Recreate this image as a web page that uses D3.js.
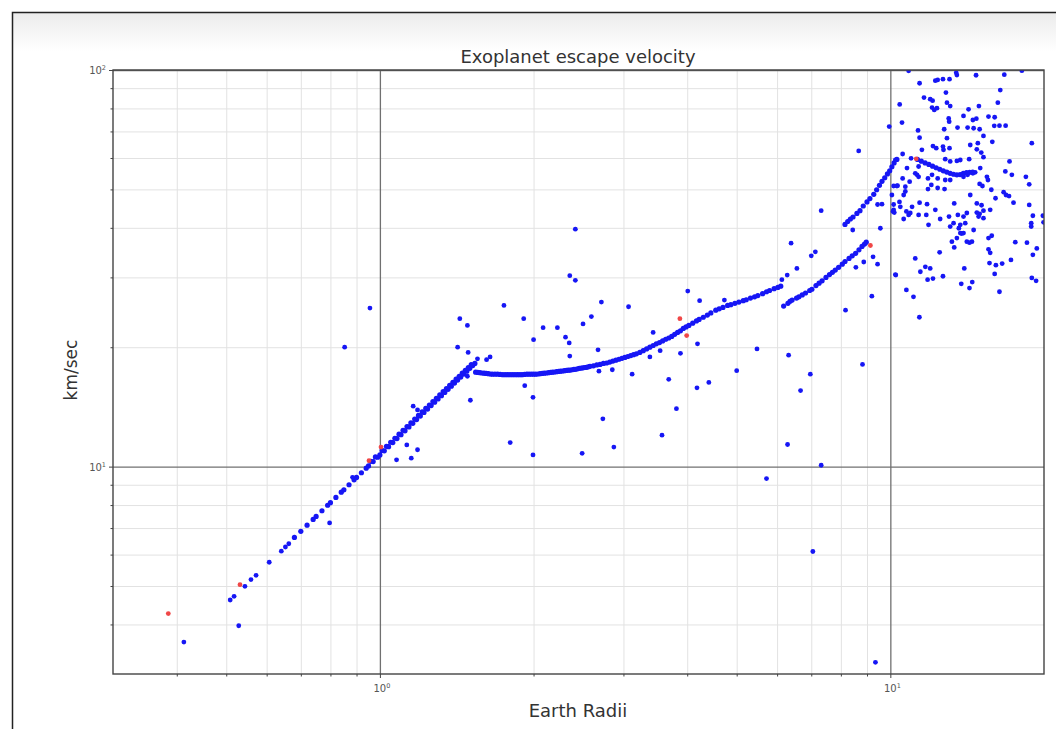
<!DOCTYPE html>
<html>
<head>
<meta charset="utf-8">
<script src="https://cdn.jsdelivr.net/npm/d3@7"></script>
<style>
  body { margin: 0; background: #fff; }
  svg { display: block; font-family: "DejaVu Sans", sans-serif; }
</style>
</head>
<body>
<div id="chart"></div>
<script>
// Page and plot area
const width = 1056;
const height = 729;
const margin = { top: 70, right: 12, bottom: 55, left: 113 };

// Ticks
const xMajor = [1, 10];
const xMinor = [0.4, 0.5, 0.6, 0.7, 0.8, 0.9, 2, 3, 4, 5, 6, 7, 8, 9];
const yMajor = [10, 100];
const yMinor = [4, 5, 6, 7, 8, 9, 20, 30, 40, 50, 60, 70, 80, 90];

// Model branches: [earth radii, km/sec]
const rockyBranch = [
  [0.68, 6.63], [0.70, 6.87], [0.72, 7.12], [0.74, 7.36], [0.75, 7.49], [0.77, 7.74], [0.79, 7.99],
  [0.80, 8.11], [0.82, 8.36], [0.84, 8.62], [0.85, 8.74], [0.87, 9.00], [0.89, 9.26], [0.90, 9.39],
  [0.92, 9.65], [0.94, 9.91], [0.95, 10.04], [0.97, 10.30], [0.99, 10.56], [1.00, 10.70], [1.02, 10.96],
  [1.04, 11.23], [1.06, 11.50], [1.08, 11.77], [1.10, 12.04], [1.12, 12.31], [1.14, 12.59], [1.16, 12.86],
  [1.18, 13.14], [1.20, 13.41], [1.22, 13.69], [1.24, 13.97], [1.26, 14.25], [1.28, 14.53], [1.30, 14.81],
  [1.32, 15.10], [1.34, 15.38], [1.36, 15.66], [1.38, 15.95], [1.40, 16.24], [1.42, 16.53], [1.44, 16.82],
  [1.46, 17.11], [1.48, 17.40], [1.50, 17.69], [1.52, 17.98], [1.535, 18.2],
  [0.96, 10.31], [0.98, 10.58], [1.01, 10.98], [1.03, 11.25], [1.05, 11.52], [1.07, 11.79], [1.09, 12.07],
  [1.11, 12.35], [1.13, 12.62], [1.15, 12.90], [1.17, 13.18], [1.19, 13.46], [1.21, 13.74], [1.23, 14.02],
  [1.25, 14.30], [1.27, 14.59], [1.29, 14.87], [1.31, 15.16], [1.33, 15.45], [1.35, 15.74], [1.37, 16.03],
  [1.39, 16.32], [1.41, 16.61], [1.43, 16.90], [1.45, 17.20], [1.47, 17.49], [1.49, 17.78], [1.51, 18.08]
];

const neptuneBranch = [
  [1.54, 17.3], [1.57, 17.25], [1.60, 17.2], [1.63, 17.15], [1.66, 17.1], [1.70, 17.1], [1.74, 17.05],
  [1.78, 17.05], [1.82, 17.05], [1.86, 17.05], [1.90, 17.05], [1.94, 17.1], [1.98, 17.1], [2.02, 17.1],
  [2.06, 17.15], [2.10, 17.2], [2.14, 17.25], [2.18, 17.3], [2.22, 17.35], [2.26, 17.4], [2.30, 17.45],
  [2.34, 17.5], [2.38, 17.55], [2.42, 17.6], [2.46, 17.7], [2.50, 17.75], [2.54, 17.8], [2.58, 17.9],
  [2.62, 17.95], [2.66, 18.05], [2.70, 18.1], [2.74, 18.2], [2.78, 18.25], [2.82, 18.35], [2.86, 18.45],
  [2.90, 18.55], [2.94, 18.65], [2.98, 18.75], [3.02, 18.85], [3.06, 18.95], [3.10, 19.05], [3.14, 19.15],
  [3.18, 19.25], [3.23, 19.4], [3.28, 19.6], [3.33, 19.8], [3.38, 20.0], [3.43, 20.2], [3.48, 20.4],
  [3.53, 20.55], [3.58, 20.75], [3.63, 20.95], [3.68, 21.1], [3.73, 21.3], [3.78, 21.55], [3.83, 21.8],
  [3.88, 22.0], [3.93, 22.3], [3.98, 22.5], [4.03, 22.7],
  [1.555, 17.28], [1.585, 17.22], [1.615, 17.18], [1.645, 17.12], [1.68, 17.1], [1.72, 17.08], [1.76, 17.05],
  [1.80, 17.05], [1.84, 17.05], [1.88, 17.05], [1.92, 17.08], [1.96, 17.1], [2.00, 17.1], [2.04, 17.12],
  [2.08, 17.18], [2.12, 17.22], [2.16, 17.28], [2.20, 17.32], [2.24, 17.38], [2.28, 17.42], [2.32, 17.48],
  [2.36, 17.52], [2.40, 17.58], [2.44, 17.65], [2.48, 17.72], [2.52, 17.78], [2.56, 17.85],
  [4.10, 23.0], [4.17, 23.3], [4.22, 23.5], [4.30, 23.8], [4.38, 24.1], [4.45, 24.4], [4.55, 24.8],
  [4.62, 25.0], [4.70, 25.2], [4.80, 25.5], [4.87, 25.6], [4.96, 25.8], [5.05, 26.0], [5.15, 26.2],
  [5.22, 26.35], [5.32, 26.6], [5.42, 26.8], [5.50, 27.0], [5.62, 27.3], [5.72, 27.6], [5.80, 27.8],
  [5.92, 28.1], [6.02, 28.3], [6.10, 28.5]
];

const subSaturnBranch = [
  [6.18, 25.4], [6.30, 25.8], [6.36, 26.1], [6.42, 26.3], [6.55, 26.6], [6.62, 26.8], [6.72, 27.1],
  [6.82, 27.4], [6.95, 27.8], [7.02, 28.0], [7.15, 28.6], [7.25, 29.0], [7.35, 29.4], [7.48, 30.0],
  [7.60, 30.5], [7.70, 30.9], [7.80, 31.3], [7.92, 31.8], [8.05, 32.4], [8.15, 32.9], [8.30, 33.5],
  [8.42, 34.0], [8.55, 34.5], [8.68, 35.2], [8.80, 35.9], [8.90, 36.4], [8.97, 36.8]
];

const saturnBranch = [
  [8.15, 40.8], [8.25, 41.5], [8.35, 42.1], [8.45, 42.6], [8.60, 43.5], [8.72, 44.2], [8.85, 45.4],
  [9.00, 46.5], [9.12, 47.4], [9.28, 48.6], [9.40, 49.9], [9.52, 51.2], [9.63, 52.4], [9.75, 53.5],
  [9.87, 54.7], [9.97, 55.7], [10.07, 57.0], [10.17, 58.3], [10.30, 59.5]
];

const jupiterBranch = [
  [11.3, 59.5], [11.5, 58.9], [11.7, 58.3], [11.9, 57.8], [12.1, 57.2], [12.3, 56.7], [12.5, 56.2],
  [12.7, 55.7], [12.9, 55.3], [13.1, 54.9], [13.3, 54.6], [13.5, 54.4], [13.7, 54.5], [13.9, 54.9],
  [14.1, 55.1], [14.3, 55.2], [14.5, 55.3]
];

// Measured planets
const measured = [
  [0.413, 3.61], [0.529, 3.97], [0.509, 4.61], [0.518, 4.71], [0.544, 4.99], [0.559, 5.19], [0.572, 5.32],
  [0.607, 5.74], [0.641, 6.12], [0.653, 6.27], [0.663, 6.39], [0.797, 7.21], [0.884, 9.4], [0.853, 20.0],
  [0.956, 25.1],
  [2.415, 39.7], [2.355, 30.3], [2.415, 29.5], [1.75, 25.5], [2.716, 26.0], [3.07, 25.3], [4.01, 27.7],
  [4.23, 26.2], [1.434, 23.6], [1.484, 22.7], [1.913, 23.6], [2.088, 22.4], [2.227, 22.4], [2.596, 23.9],
  [2.50, 22.9], [2.31, 21.2], [2.349, 20.5], [2.355, 19.0], [2.0, 20.9], [1.42, 20.0], [1.489, 19.4],
  [1.553, 18.7], [1.618, 18.6], [1.644, 18.9], [1.484, 16.9], [1.504, 14.7], [1.162, 14.2], [1.185, 13.9],
  [1.129, 11.34], [1.185, 11.03], [1.078, 10.4], [1.152, 10.5], [1.922, 16.0], [1.995, 14.95], [1.80, 11.5],
  [1.995, 10.7], [2.49, 10.8], [2.675, 19.7], [2.686, 17.4], [2.853, 17.55], [3.12, 17.1], [2.734, 13.2],
  [2.873, 11.2], [3.43, 21.8], [3.38, 18.9], [3.54, 19.6], [3.68, 16.6], [3.81, 14.0], [3.57, 12.0],
  [3.88, 19.3], [4.19, 20.4], [4.18, 15.8], [4.41, 16.3],
  [4.73, 26.3], [5.48, 19.8], [5.0, 17.45], [8.67, 62.5], [7.32, 44.2], [6.39, 36.6], [7.13, 34.8],
  [7.0, 34.0], [6.56, 31.6], [6.13, 29.6], [6.28, 30.4], [8.44, 39.5], [9.56, 39.9], [9.44, 45.8],
  [9.63, 45.9], [10.07, 48.4], [10.15, 45.8], [10.12, 44.0], [10.33, 51.1], [10.42, 46.5], [10.25, 30.4],
  [8.56, 31.8], [8.87, 32.8], [9.25, 33.8], [9.44, 32.4], [9.2, 26.9], [8.17, 24.8], [8.82, 18.1],
  [6.32, 19.1], [6.97, 17.1], [6.67, 15.55], [6.29, 11.37], [7.32, 10.08], [5.72, 9.33], [7.05, 6.11],
  [9.35, 3.21],
  [10.86, 99.5], [13.46, 98.4], [13.5, 97.1], [14.72, 97.0], [16.72, 97.3], [18.1, 99.6], [11.41, 92.6],
  [12.25, 94.0], [12.38, 94.4], [12.68, 94.8], [13.06, 94.8], [12.85, 87.7], [16.42, 89.0], [11.64, 85.2],
  [11.97, 84.4], [12.10, 83.7], [12.91, 82.7], [13.10, 81.1], [16.24, 82.7], [10.43, 81.9], [12.07, 80.4],
  [12.19, 79.3], [12.34, 80.1], [14.23, 79.6], [14.91, 81.1], [13.01, 75.5], [13.04, 74.1], [13.91, 76.6],
  [14.51, 74.8], [14.74, 75.4], [15.57, 76.3], [16.01, 76.0], [10.54, 73.7], [9.95, 72.0], [12.75, 70.9],
  [13.54, 71.6], [14.17, 71.6], [14.56, 71.3], [14.96, 70.9], [15.98, 72.3], [16.36, 72.4], [16.82, 72.4],
  [11.33, 70.4], [11.41, 67.5], [12.91, 67.3], [15.22, 68.2], [15.84, 65.9], [18.93, 65.4], [12.12, 64.3],
  [12.30, 63.5], [12.68, 64.1], [12.71, 62.9], [13.06, 63.5], [14.34, 64.7], [14.84, 65.4], [14.77, 63.1],
  [15.07, 61.9], [15.22, 60.3], [14.27, 59.6], [11.53, 62.9], [10.23, 59.3], [10.57, 61.4], [10.98, 59.9],
  [12.81, 59.6], [13.10, 58.8], [13.5, 59.0], [13.71, 59.3], [10.78, 56.6], [11.36, 57.1], [15.0, 56.6],
  [16.8, 55.5], [17.12, 58.8], [11.19, 54.9], [11.28, 54.4], [11.36, 53.8], [10.57, 53.3], [10.91, 52.3],
  [11.85, 53.3], [12.07, 54.4], [12.38, 53.3], [12.81, 52.8], [13.10, 52.8], [13.91, 53.8], [14.17, 54.4],
  [14.51, 54.9], [14.66, 55.2], [15.46, 53.8], [15.53, 52.8], [17.3, 54.4], [18.43, 53.8], [18.71, 51.5],
  [10.15, 51.0], [10.30, 51.0], [10.70, 50.8], [11.85, 50.1], [12.38, 50.4], [12.03, 51.3], [12.77, 50.1],
  [14.34, 48.4], [14.96, 51.6], [15.15, 51.0], [15.77, 49.9], [16.67, 49.2], [16.85, 48.4], [10.46, 45.2],
  [10.62, 48.4], [11.03, 45.2], [10.70, 49.4], [11.41, 46.3], [11.80, 45.9], [13.34, 46.1], [14.77, 46.1],
  [15.09, 45.6], [16.07, 47.5], [17.08, 48.1], [17.43, 46.3], [18.71, 45.7], [10.15, 44.4], [10.18, 43.7],
  [10.75, 44.0], [10.86, 43.1], [10.94, 43.6], [11.36, 43.1], [11.76, 43.1], [12.25, 44.4], [12.52, 42.1],
  [13.03, 42.7], [13.56, 43.1], [13.91, 42.7], [14.12, 43.6], [14.77, 43.7], [14.96, 43.4], [14.89, 42.7],
  [15.22, 44.2], [15.69, 44.4], [19.02, 42.9], [19.9, 42.9], [10.62, 42.1], [11.88, 40.7], [13.10, 40.3],
  [13.3, 41.1], [13.71, 40.7], [13.62, 39.9], [14.02, 41.1], [14.56, 39.5], [15.22, 42.3], [18.88, 41.1],
  [18.88, 40.3], [19.96, 41.3], [13.71, 38.8], [13.8, 38.7], [13.91, 38.8], [15.80, 38.2], [15.57, 37.7],
  [13.50, 37.7], [13.20, 36.9], [12.49, 34.7], [13.34, 35.7], [14.12, 36.9], [14.29, 36.7], [14.45, 36.9],
  [15.57, 35.3], [15.69, 34.6], [17.57, 36.8], [18.52, 36.7], [19.36, 35.5], [19.02, 34.2], [11.19, 33.5],
  [11.45, 31.0], [11.71, 31.9], [11.97, 31.6], [11.83, 29.6], [12.12, 29.8], [12.68, 30.2], [13.96, 31.6],
  [15.64, 32.6], [16.10, 32.2], [16.56, 32.5], [17.23, 33.2], [16.01, 30.6], [10.23, 30.5], [10.75, 27.9],
  [11.10, 26.8], [13.77, 28.9], [14.29, 28.2], [14.47, 29.2], [16.36, 27.6], [18.93, 29.9], [19.3, 29.4],
  [11.4, 23.8]
];

// Solar system reference planets (red)
const solarPlanets = [
  [0.385, 4.26], [0.532, 5.04], [0.952, 10.35], [1.005, 11.2], [3.87, 23.6], [3.99, 21.4],
  [9.14, 36.1], [11.24, 59.7]
];

const blue = "#1414f5";
const red = "#f04646";

const svg = d3.select("#chart")
  .append("svg")
  .attr("width", width)
  .attr("height", height);

// Window frame around the figure
const defs = svg.append("defs");
const grad = defs.append("linearGradient")
  .attr("id", "topfade")
  .attr("x1", 0).attr("y1", 0).attr("x2", 0).attr("y2", 1);
grad.append("stop").attr("offset", "0%").attr("stop-color", "#ececec");
grad.append("stop").attr("offset", "100%").attr("stop-color", "#ffffff");

defs.append("filter").attr("id", "soft")
  .append("feGaussianBlur").attr("stdDeviation", 0.35);

svg.append("rect")
  .attr("x", 13).attr("y", 13)
  .attr("width", width - 13).attr("height", 38)
  .attr("fill", "url(#topfade)");

svg.append("path")
  .attr("d", `M12.5,${height} V12.5 H${width}`)
  .attr("fill", "none")
  .attr("stroke", "#222")
  .attr("stroke-width", 1.5);

// Scales
const x = d3.scaleLog()
  .domain([0.3, 20])
  .range([margin.left, width - margin.right]);

const y = d3.scaleLog()
  .domain([3, 100])
  .range([height - margin.bottom, margin.top]);

const plotW = width - margin.left - margin.right;
const plotH = height - margin.top - margin.bottom;

defs.append("clipPath").attr("id", "plot")
  .append("rect")
  .attr("x", margin.left).attr("y", margin.top)
  .attr("width", plotW).attr("height", plotH);

// Minor grid
svg.append("g")
  .attr("transform", `translate(0, ${height - margin.bottom})`)
  .call(d3.axisBottom(x).tickValues(xMinor).tickSize(-plotH).tickFormat(""))
  .call(g => g.select(".domain").remove())
  .call(g => g.selectAll("line").attr("stroke", "#e2e2e2").attr("stroke-width", 1));

svg.append("g")
  .attr("transform", `translate(${margin.left}, 0)`)
  .call(d3.axisLeft(y).tickValues(yMinor).tickSize(-plotW).tickFormat(""))
  .call(g => g.select(".domain").remove())
  .call(g => g.selectAll("line").attr("stroke", "#e2e2e2").attr("stroke-width", 1));

// Major grid
svg.append("g")
  .attr("transform", `translate(0, ${height - margin.bottom})`)
  .call(d3.axisBottom(x).tickValues(xMajor).tickSize(-plotH).tickFormat(""))
  .call(g => g.select(".domain").remove())
  .call(g => g.selectAll("line").attr("stroke", "#707070").attr("stroke-width", 1.3));

svg.append("g")
  .attr("transform", `translate(${margin.left}, 0)`)
  .call(d3.axisLeft(y).tickValues(yMajor).tickSize(-plotW).tickFormat(""))
  .call(g => g.select(".domain").remove())
  .call(g => g.selectAll("line").attr("stroke", "#707070").attr("stroke-width", 1.3));

// Points
const points = svg.append("g")
  .attr("clip-path", "url(#plot)")
  .append("g")
  .attr("filter", "url(#soft)");

[rockyBranch, neptuneBranch, subSaturnBranch, saturnBranch, jupiterBranch].forEach(series => {
  points.append("g")
    .selectAll("circle")
    .data(series)
    .enter()
    .append("circle")
    .attr("cx", d => x(d[0]))
    .attr("cy", d => y(d[1]))
    .attr("r", 2.6)
    .attr("fill", blue);
});

points.append("g")
  .selectAll("circle")
  .data(measured)
  .enter()
  .append("circle")
  .attr("cx", d => x(d[0]))
  .attr("cy", d => y(d[1]))
  .attr("r", 2.4)
  .attr("fill", blue);

points.append("g")
  .selectAll("circle")
  .data(solarPlanets)
  .enter()
  .append("circle")
  .attr("cx", d => x(d[0]))
  .attr("cy", d => y(d[1]))
  .attr("r", 2.4)
  .attr("fill", red);

// Ticks (outward)
const tickColor = "#444";
svg.append("g")
  .attr("transform", `translate(0, ${height - margin.bottom})`)
  .call(d3.axisBottom(x).tickValues(xMinor).tickSize(2.5).tickFormat(""))
  .call(g => g.select(".domain").remove())
  .call(g => g.selectAll("line").attr("stroke", tickColor));

svg.append("g")
  .attr("transform", `translate(0, ${height - margin.bottom})`)
  .call(d3.axisBottom(x).tickValues(xMajor).tickSize(4).tickFormat(""))
  .call(g => g.select(".domain").remove())
  .call(g => g.selectAll("line").attr("stroke", tickColor));

svg.append("g")
  .attr("transform", `translate(${margin.left}, 0)`)
  .call(d3.axisLeft(y).tickValues(yMinor).tickSize(2.5).tickFormat(""))
  .call(g => g.select(".domain").remove())
  .call(g => g.selectAll("line").attr("stroke", tickColor));

svg.append("g")
  .attr("transform", `translate(${margin.left}, 0)`)
  .call(d3.axisLeft(y).tickValues(yMajor).tickSize(4).tickFormat(""))
  .call(g => g.select(".domain").remove())
  .call(g => g.selectAll("line").attr("stroke", tickColor));

// Spines
svg.append("rect")
  .attr("x", margin.left).attr("y", margin.top)
  .attr("width", plotW).attr("height", plotH)
  .attr("fill", "none")
  .attr("stroke", "#444")
  .attr("stroke-width", 1.4);

// Power-of-ten tick labels
function powerLabel(sel, d) {
  const exp = Math.round(Math.log10(d));
  sel.append("tspan").text("10");
  sel.append("tspan").attr("dy", -4).attr("font-size", 6.5).text(exp);
}

svg.append("g")
  .selectAll("text")
  .data(xMajor)
  .enter()
  .append("text")
  .attr("x", d => x(d) + 2)
  .attr("y", height - margin.bottom + 18)
  .attr("text-anchor", "middle")
  .attr("font-size", 10)
  .attr("fill", "#555")
  .each(function (d) { powerLabel(d3.select(this), d); });

svg.append("g")
  .selectAll("text")
  .data(yMajor)
  .enter()
  .append("text")
  .attr("x", margin.left - 7)
  .attr("y", d => y(d) + 4)
  .attr("text-anchor", "end")
  .attr("font-size", 10)
  .attr("fill", "#555")
  .each(function (d) { powerLabel(d3.select(this), d); });

// Title and axis labels
svg.append("text")
  .attr("x", 578)
  .attr("y", 63)
  .attr("text-anchor", "middle")
  .attr("font-size", 18)
  .attr("fill", "#333")
  .text("Exoplanet escape velocity");

svg.append("text")
  .attr("x", 578)
  .attr("y", 717)
  .attr("text-anchor", "middle")
  .attr("font-size", 18)
  .attr("fill", "#333")
  .text("Earth Radii");

svg.append("text")
  .attr("transform", "rotate(-90)")
  .attr("x", -370)
  .attr("y", 77)
  .attr("text-anchor", "middle")
  .attr("font-size", 17)
  .attr("fill", "#333")
  .text("km/sec");
</script>
</body>
</html>
